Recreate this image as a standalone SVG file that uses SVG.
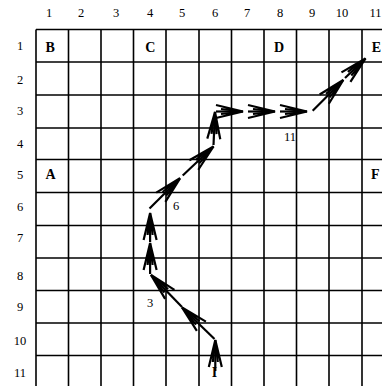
<svg xmlns="http://www.w3.org/2000/svg" width="382" height="386" viewBox="0 0 382 386">
<defs>
<style>
.grid line{stroke:#000;stroke-width:1.6}
.lab{font-family:"Liberation Serif","Times New Roman",serif;font-size:12.5px;fill:#000;text-anchor:middle}
.big{font-family:"Liberation Serif","Times New Roman",serif;font-size:14px;font-weight:bold;fill:#000}
.arr line{stroke:#000;stroke-width:2.2;marker-end:url(#ah)}
</style>
<marker id="ah" markerUnits="userSpaceOnUse" markerWidth="32" markerHeight="18" refX="29" refY="9" orient="auto" viewBox="0 0 32 18">
<path d="M2,2.5 L29,9 L2,15.5 M7,6.5 L29,9 L7,11.5" fill="none" stroke="#000" stroke-width="2.2"/>
</marker>
</defs>
<rect width="382" height="386" fill="#fff"/>
<g class="grid" id="grid">
<line x1="36" y1="29.5" x2="36" y2="388"/>
<line x1="68.5" y1="29.5" x2="68.5" y2="388"/>
<line x1="101" y1="29.5" x2="101" y2="388"/>
<line x1="133.5" y1="29.5" x2="133.5" y2="388"/>
<line x1="166" y1="29.5" x2="166" y2="388"/>
<line x1="199" y1="29.5" x2="199" y2="388"/>
<line x1="231.5" y1="29.5" x2="231.5" y2="388"/>
<line x1="264" y1="29.5" x2="264" y2="388"/>
<line x1="296.5" y1="29.5" x2="296.5" y2="388"/>
<line x1="329" y1="29.5" x2="329" y2="388"/>
<line x1="362" y1="29.5" x2="362" y2="388"/>
<line x1="36" y1="29.5" x2="394" y2="29.5"/>
<line x1="36" y1="62" x2="394" y2="62"/>
<line x1="36" y1="95" x2="394" y2="95"/>
<line x1="36" y1="128" x2="394" y2="128"/>
<line x1="36" y1="159.5" x2="394" y2="159.5"/>
<line x1="36" y1="192.5" x2="394" y2="192.5"/>
<line x1="36" y1="225.5" x2="394" y2="225.5"/>
<line x1="36" y1="258" x2="394" y2="258"/>
<line x1="36" y1="290.5" x2="394" y2="290.5"/>
<line x1="36" y1="323" x2="394" y2="323"/>
<line x1="36" y1="355.5" x2="394" y2="355.5"/>
</g>
<g id="col-labels">
<text class="lab" x="49" y="17">1</text>
<text class="lab" x="81" y="17">2</text>
<text class="lab" x="116" y="17">3</text>
<text class="lab" x="150" y="17">4</text>
<text class="lab" x="182" y="17">5</text>
<text class="lab" x="215" y="17">6</text>
<text class="lab" x="247" y="17">7</text>
<text class="lab" x="280" y="17">8</text>
<text class="lab" x="312" y="17">9</text>
<text class="lab" x="342" y="17">10</text>
<text class="lab" x="375.5" y="17">11</text>
</g>
<g id="row-labels">
<text class="lab" x="20" y="50">1</text>
<text class="lab" x="20" y="84">2</text>
<text class="lab" x="20" y="115">3</text>
<text class="lab" x="20" y="147.5">4</text>
<text class="lab" x="20" y="179">5</text>
<text class="lab" x="20" y="211">6</text>
<text class="lab" x="20" y="242">7</text>
<text class="lab" x="20" y="280">8</text>
<text class="lab" x="20" y="311">9</text>
<text class="lab" x="20" y="345">10</text>
<text class="lab" x="20" y="377">11</text>
</g>
<g id="node-B"><text class="big" x="45.5" y="51.7">B</text></g>
<g id="node-C"><text class="big" x="145.3" y="51.7">C</text></g>
<g id="node-D"><text class="big" x="274" y="51.7">D</text></g>
<g id="node-E"><text class="big" x="371.7" y="51.7">E</text></g>
<g id="node-A"><text class="big" x="45.5" y="178.5">A</text></g>
<g id="node-F"><text class="big" x="371" y="178.5">F</text></g>
<g id="node-I"><text class="big" x="214.5" y="377" text-anchor="middle">I</text></g>
<g class="arr" id="connectors">
<line x1="215.3" y1="371" x2="215.3" y2="340"/>
<line x1="214.5" y1="339" x2="182" y2="307.5"/>
<line x1="182" y1="307" x2="151" y2="275"/>
<line x1="150.1" y1="274" x2="150.1" y2="243"/>
<line x1="150.1" y1="242" x2="150.1" y2="213"/>
<line x1="149.5" y1="208.5" x2="180" y2="178.3"/>
<line x1="182.7" y1="175.5" x2="213.5" y2="146.5"/>
<line x1="213.5" y1="145" x2="215" y2="112"/>
<line x1="216" y1="111.5" x2="243" y2="111.5"/>
<line x1="248" y1="111.5" x2="275" y2="111.5"/>
<line x1="280" y1="111.5" x2="307" y2="111.5"/>
<line x1="312.7" y1="110.7" x2="343.3" y2="80"/>
<line x1="345" y1="78" x2="365.5" y2="58.5"/>
</g>
<g id="step-labels">
<text class="lab" x="290" y="140.5">11</text>
<text class="lab" x="176" y="209.5">6</text>
<text class="lab" x="150" y="306.7">3</text>
</g>
</svg>
